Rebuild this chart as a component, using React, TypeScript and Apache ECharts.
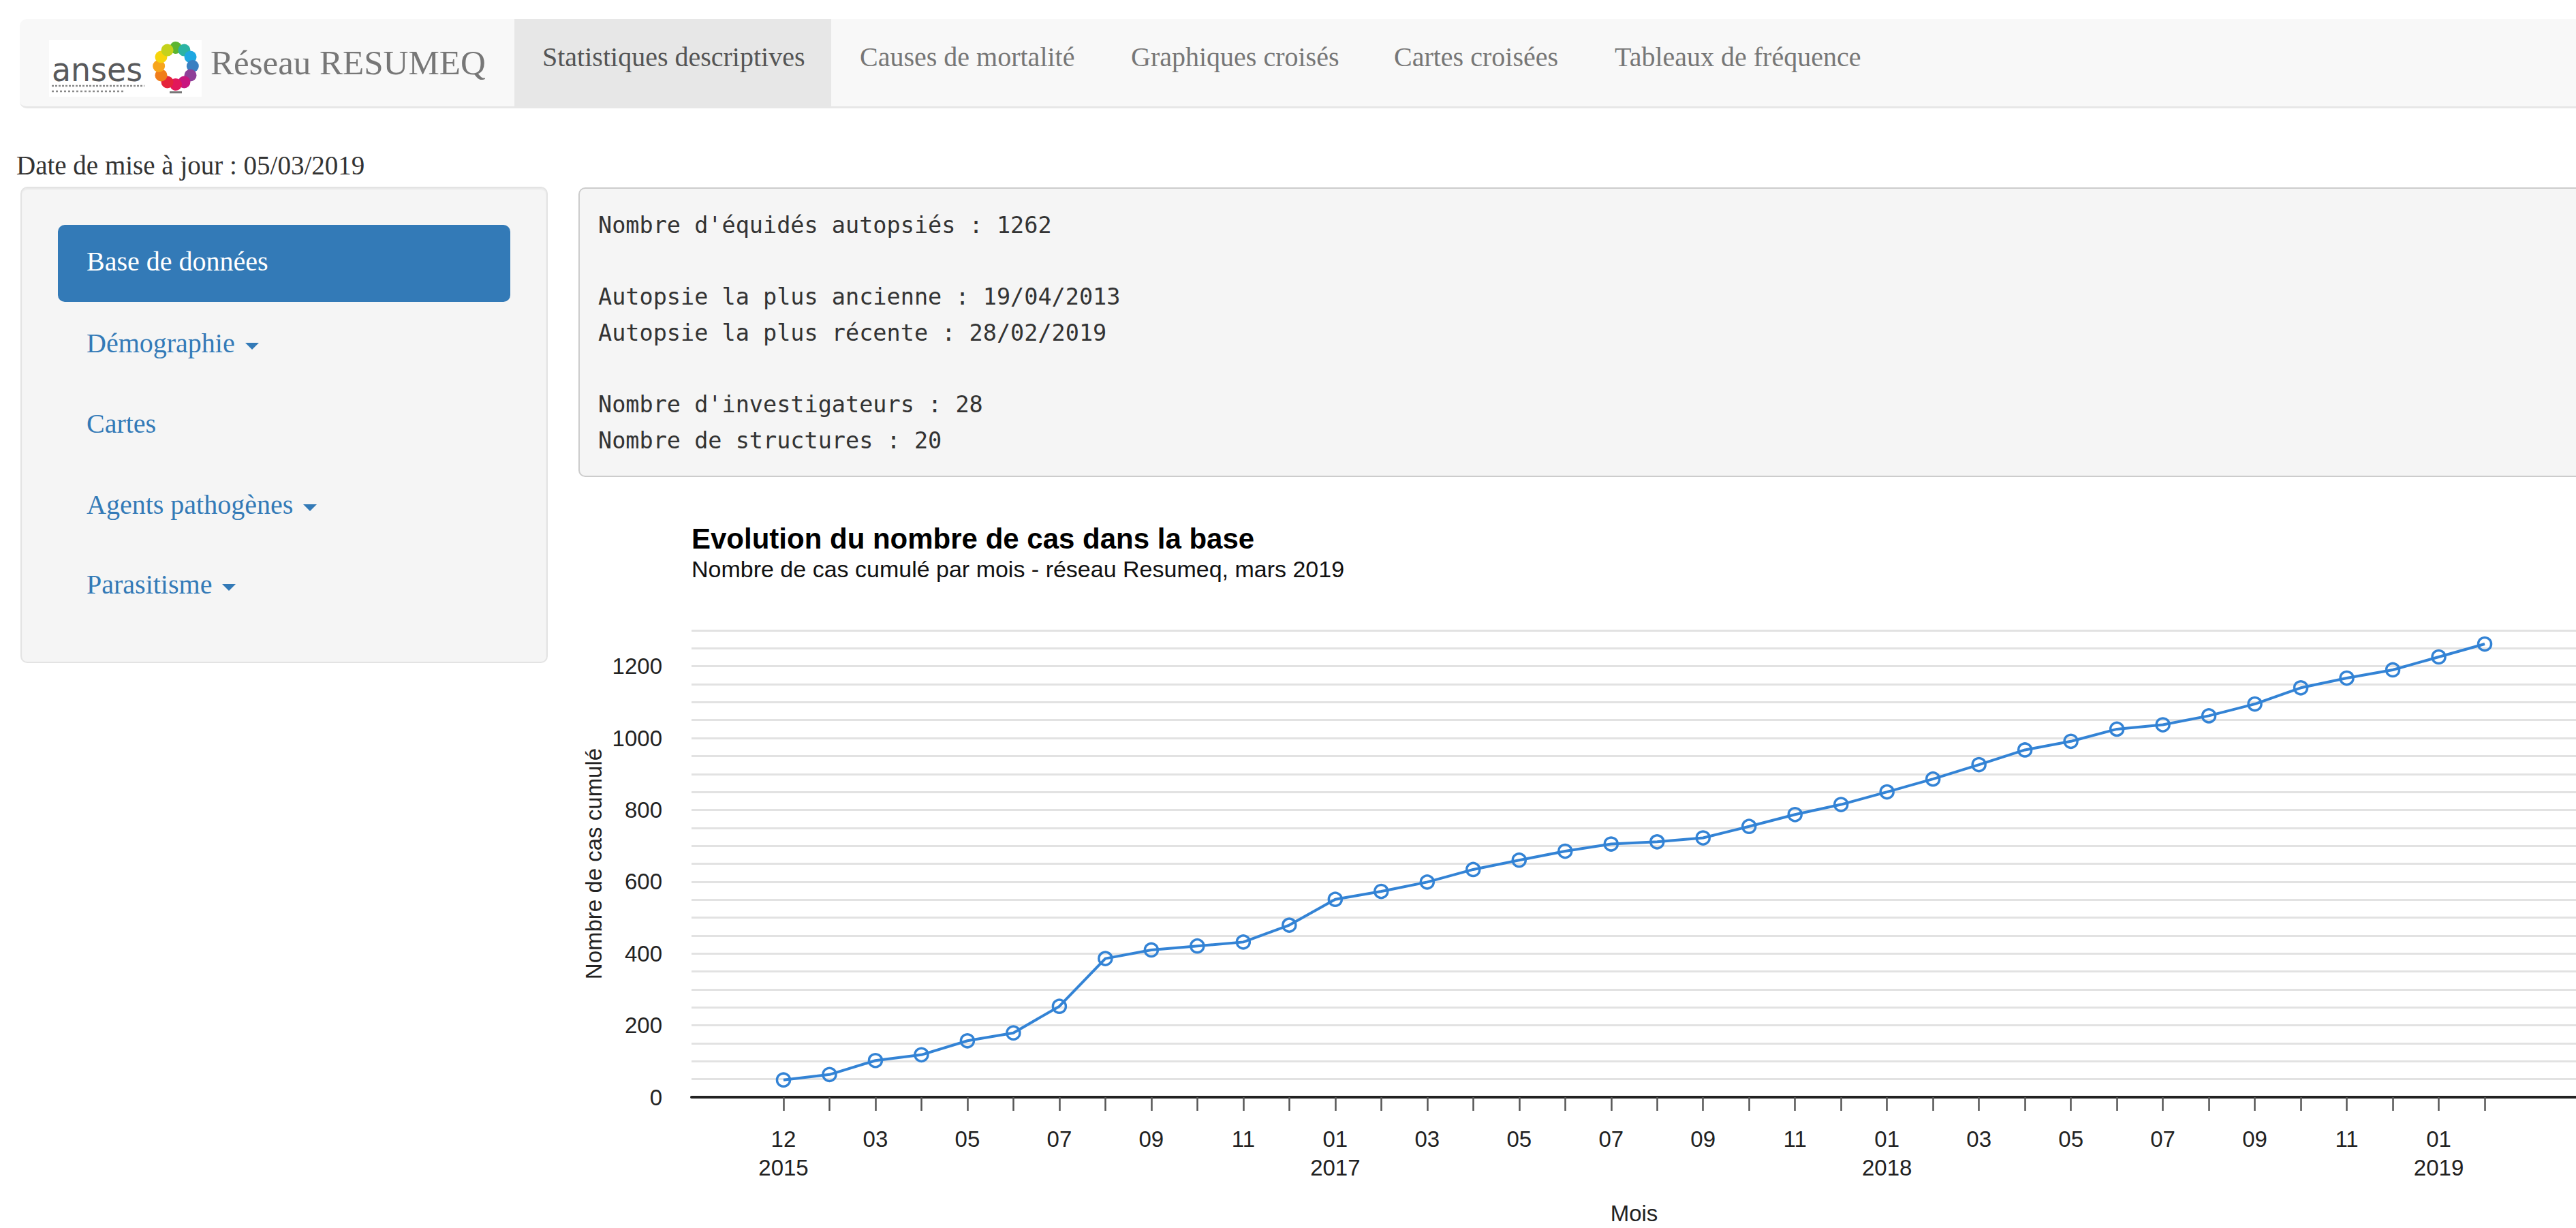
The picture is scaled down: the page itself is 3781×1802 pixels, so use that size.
import React, { useEffect, useRef } from 'react';
import * as echarts from 'echarts';

// ---------- data ----------
const monthLabels = ['12','01','03','04','05','06','07','08','09','10','11','12','01','02','03','04','05','06','07','08','09','10','11','12','01','02','03','04','05','06','07','08','09','10','11','12','01','02'];
const yearLabels = ['2015','2016','','','','','','','','','','','2017','','','','','','','','','','','','2018','','','','','','','','','','','','2019',''];
const cumulativeCases = [48,63,102,118,157,179,253,386,410,421,432,479,551,573,599,634,660,685,705,711,722,754,787,815,850,886,926,967,991,1025,1037,1062,1095,1140,1167,1190,1226,1262];
const yAxisMax = 1300;
const yGridStep = 50;
const yLabelStep = 200;

const chartTitle = 'Evolution du nombre de cas dans la base';
const chartSubtitle = 'Nombre de cas cumulé par mois - réseau Resumeq, mars 2019';
const yAxisName = 'Nombre de cas cumulé';
const xAxisName = 'Mois';

const navTabs = ['Statistiques descriptives', 'Causes de mortalité', 'Graphiques croisés', 'Cartes croisées', 'Tableaux de fréquence'];
const navTabLefts = [796, 1262, 1660, 2046, 2370];
const sideItems = ['Base de données', 'Démographie', 'Cartes', 'Agents pathogènes', 'Parasitisme'];
const sideCarets = [false, true, false, true, true];
const sideTops = [364, 484, 602, 721, 838];
const statsLines = ["Nombre d'équidés autopsiés : 1262", 'Autopsie la plus ancienne : 19/04/2013', 'Autopsie la plus récente : 28/02/2019', "Nombre d'investigateurs : 28", 'Nombre de structures : 20'];
const statsTops = [314, 419, 472, 577, 630];

const LEAD = 2;
const TRAIL = 2;
const BLUE = '#3383d5';

const logoColors = ['#5cb531', '#2bb3a3', '#1ea7e1', '#3a7fc1', '#8e3f98', '#c8167f', '#e2175b', '#e5243b', '#f07d1a', '#f7a51c', '#f7d40c', '#c5d21c'];

function Chart() {
  const ref = useRef<HTMLDivElement>(null);
  useEffect(() => {
    if (!ref.current) return;
    const chart = echarts.init(ref.current, null, { renderer: 'svg' });
    const n = cumulativeCases.length;
    const total = LEAD + n + TRAIL;
    const categories: string[] = [];
    for (let i = 0; i < total; i++) categories.push(String(i));
    const seriesData: (number | string)[] = [];
    for (let i = 0; i < LEAD; i++) seriesData.push('-');
    cumulativeCases.forEach((v) => seriesData.push(v));
    for (let i = 0; i < TRAIL; i++) seriesData.push('-');

    const option: any = {
      animation: false,
      textStyle: { fontFamily: "'Liberation Sans', Arial, sans-serif" },
      title: [
        {
          text: chartTitle, left: 185, top: 69, padding: 0,
          textStyle: { fontSize: 42, fontWeight: 'bold', color: '#000', fontFamily: "'Liberation Sans', Arial, sans-serif" },
        },
        {
          text: chartSubtitle, left: 185, top: 118, padding: 0,
          textStyle: { fontSize: 34, fontWeight: 'normal', color: '#111', fontFamily: "'Liberation Sans', Arial, sans-serif" },
        },
      ],
      grid: { left: 185, top: 225, width: 2767, height: 698 },
      xAxis: {
        type: 'category',
        data: categories,
        boundaryGap: false,
        name: xAxisName,
        nameLocation: 'middle',
        nameGap: 154,
        nameTextStyle: { fontSize: 33, color: '#222' },
        axisLine: { lineStyle: { color: '#222', width: 4 } },
        axisTick: {
          show: true,
          interval: (i: number) => i >= LEAD && i < LEAD + n,
          length: 20,
          lineStyle: { color: '#555', width: 2.5 },
        },
        axisLabel: {
          interval: (i: number) => i >= LEAD && i < LEAD + n && (i - LEAD) % 2 === 0,
          formatter: (v: string) => {
            const k = Number(v) - LEAD;
            if (k < 0 || k >= n) return '';
            return yearLabels[k] ? monthLabels[k] + '\n' + yearLabels[k] : monthLabels[k];
          },
          fontSize: 33,
          color: '#222',
          lineHeight: 42,
          margin: 40,
        },
        splitLine: { show: false },
      },
      yAxis: {
        type: 'value',
        min: 0,
        max: yAxisMax,
        interval: yGridStep,
        name: yAxisName,
        nameLocation: 'middle',
        nameGap: 126,
        nameTextStyle: { fontSize: 33, color: '#222' },
        axisLine: { show: false },
        axisTick: { show: false },
        axisLabel: {
          formatter: (v: number) => (v % yLabelStep === 0 ? String(v) : ''),
          fontSize: 33,
          color: '#222',
          margin: 43,
        },
        splitLine: { lineStyle: { color: '#e2e2e2', width: 3 } },
      },
      series: [
        {
          type: 'line',
          data: seriesData,
          symbol: 'circle',
          symbolSize: 19,
          lineStyle: { color: BLUE, width: 4 },
          itemStyle: { color: 'rgba(255,255,255,0)', borderColor: BLUE, borderWidth: 3.5 },
          emphasis: { disabled: true },
        },
      ],
    };
    chart.setOption(option);
    return () => chart.dispose();
  }, []);
  return <div ref={ref} style={{ position: 'absolute', left: 830, top: 700, width: 3070, height: 1102 }} />;
}

function Logo() {
  const cx = 186;
  const cy = 38;
  const r = 27;
  return (
    <svg style={{ position: 'absolute', left: 72, top: 59 }} width={224} height={83} viewBox="0 0 224 83">
      <rect x={0} y={0} width={224} height={83} fill="#fff" />
      <text x={4} y={60} fontSize={48} fill="#58595b" fontFamily="'DejaVu Sans', sans-serif" textLength={133} lengthAdjust="spacingAndGlyphs">anses</text>
      <line x1={4} y1={67} x2={140} y2={67} stroke="#8a8a8a" strokeWidth={2.5} strokeDasharray="3 2" />
      <line x1={4} y1={75} x2={110} y2={75} stroke="#8a8a8a" strokeWidth={2.5} strokeDasharray="3 3" />
      {logoColors.map((c, i) => {
        const a = -Math.PI / 2 + (i * 2 * Math.PI) / logoColors.length;
        return <circle key={i} cx={cx + r * 0.92 * Math.cos(a)} cy={cy + r * Math.sin(a)} r={9} fill={c} />;
      })}
      <rect x={cx - 9} y={75} width={18} height={3} fill="#777" />
    </svg>
  );
}

const abs = (left: number, top: number, extra: any = {}): React.CSSProperties => ({
  position: 'absolute', left, top, whiteSpace: 'nowrap', lineHeight: 1, margin: 0, ...extra,
});

export default function App() {
  return (
    <div style={{ position: 'fixed', left: 0, top: 0, width: '100vw', height: '100vh', overflow: 'hidden', background: '#fff', fontFamily: "'Liberation Serif', 'Times New Roman', serif" }}>
      {/* navbar */}
      <div style={{ position: 'absolute', left: 29, top: 28, width: 3800, height: 131, background: '#f8f8f8', borderBottom: '3px solid #e7e7e7', borderRadius: 10, boxSizing: 'border-box' }} />
      <div style={{ position: 'absolute', left: 755, top: 28, width: 465, height: 128, background: '#e7e7e7' }} />
      <Logo />
      <div style={abs(309, 67, { fontSize: 51, color: '#777' })}>Réseau RESUMEQ</div>
      {navTabs.map((t, i) => (
        <div key={t} style={abs(navTabLefts[i], 64, { fontSize: 40, color: i === 0 ? '#555' : '#777' })}>{t}</div>
      ))}

      {/* date */}
      <div style={abs(24, 223, { fontSize: 39, color: '#333' })}>Date de mise à jour : 05/03/2019</div>

      {/* sidebar */}
      <div style={{ position: 'absolute', left: 30, top: 274, width: 774, height: 699, background: '#f5f5f5', border: '2px solid #e3e3e3', borderRadius: 10, boxSizing: 'border-box', boxShadow: 'inset 0 2px 2px rgba(0,0,0,0.05)' }} />
      <div style={{ position: 'absolute', left: 85, top: 330, width: 664, height: 113, background: '#337ab7', borderRadius: 10 }} />
      {sideItems.map((t, i) => (
        <div key={t} style={abs(127, sideTops[i], { fontSize: 40, color: i === 0 ? '#fff' : '#337ab7' })}>
          {t}
          {sideCarets[i] ? (
            <span style={{ display: 'inline-block', width: 0, height: 0, marginLeft: 15, verticalAlign: 'middle', borderTop: '10px solid #337ab7', borderLeft: '10px solid transparent', borderRight: '10px solid transparent' }} />
          ) : null}
        </div>
      ))}

      {/* stats pre */}
      <div style={{ position: 'absolute', left: 849, top: 275, width: 3000, height: 425, background: '#f5f5f5', border: '2px solid #ccc', borderRadius: 10, boxSizing: 'border-box' }} />
      {statsLines.map((t, i) => (
        <div key={t} style={abs(878, statsTops[i], { fontSize: 33.5, color: '#333', fontFamily: "'DejaVu Sans Mono', 'Liberation Mono', monospace" })}>{t}</div>
      ))}

      <Chart />
    </div>
  );
}
